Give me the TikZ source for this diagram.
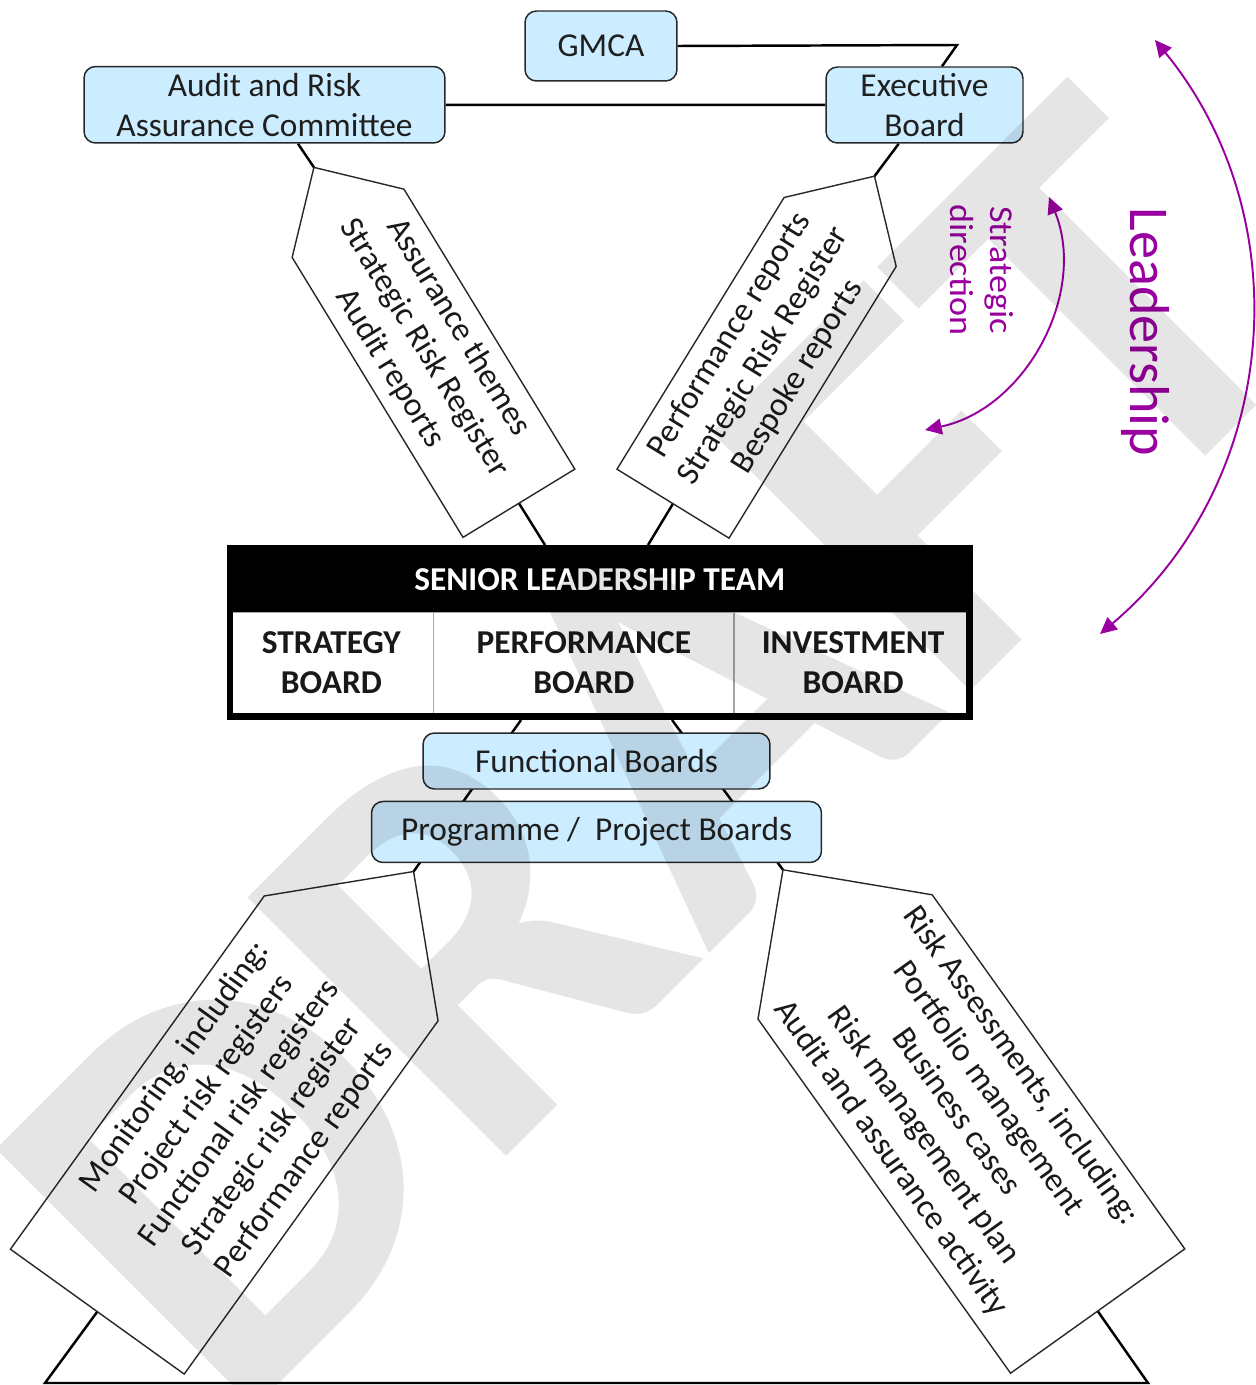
\documentclass[tikz,border=0pt]{standalone}
\usepackage{fontspec}
\setmainfont{Carlito}
\usetikzlibrary{arrows.meta, positioning, backgrounds, calc}
\definecolor{darkgray}{RGB}{40,40,40}
\definecolor{boxblue}{RGB}{204,236,255}
\definecolor{leadpurple}{RGB}{153,0,160}
\newcommand{\boxfont}{\fontsize{19}{22.7}\selectfont}
\tikzset{
  box/.style={rectangle, rounded corners=6.5pt, draw=darkgray, line width=0.85pt,
              fill=boxblue, text=black!88, align=center, inner sep=0pt,
              font=\boxfont},
  sltcell/.style={rectangle, draw=gray!70, line width=0.5pt, fill=white,
                  text=black!90, align=center, inner sep=0pt,
                  minimum height=2.03cm, font=\boxfont\bfseries},
  slthead/.style={rectangle, fill=black, text=white, inner sep=0pt,
                  minimum width=14.8cm, minimum height=1.28cm,
                  font=\boxfont\bfseries},
  sltframe/.style={rectangle, draw=black, line width=3.7pt, inner sep=0pt,
                   minimum width=14.8cm, minimum height=3.37cm},
  tagtext/.style={align=center, inner sep=0pt, text=black!90, font=\boxfont},
  tag/.style={draw=darkgray, line width=0.8pt},
  link/.style={draw=black, line width=1.4pt},
  leadarrow/.style={{Triangle[length=9.5pt, width=9pt]}-{Triangle[length=9.5pt, width=9pt]},
                    draw=leadpurple, line width=1.1pt},
  leadtext/.style={text=leadpurple, align=center, inner sep=0pt},
  watermark/.style={text=black, text opacity=0.1, inner sep=0pt,
                    font=\fontsize{321}{321}\selectfont\bfseries},
}

\begin{document}
\begin{tikzpicture}[x=0.02cm, y=0.02cm]
  \useasboundingbox (0,0) rectangle (1255,-1385);

  % Top boards
  \node[box, minimum width=3.04cm, minimum height=1.4cm] (gmca) at (601,-46) {GMCA};
  \node[box, minimum width=7.22cm, minimum height=1.53cm] (audit) at (264.5,-104.75)
    {Audit and Risk\\Assurance Committee};
  \node[box, minimum width=3.94cm, minimum height=1.52cm] (exec) at (924.5,-105)
    {Executive\\Board};

  % Senior leadership team
  \node[sltcell, minimum width=4.065cm] (strategy) at (331.4,-662.75) {STRATEGY\\BOARD};
  \node[sltcell, minimum width=6cm, right=0pt of strategy] (performance) {PERFORMANCE\\BOARD};
  \node[sltcell, minimum width=4.735cm, right=0pt of performance] (investment) {INVESTMENT\\BOARD};
  \node[slthead] (slthead) at (599.75,-580) {SENIOR LEADERSHIP TEAM};
  \node[sltframe] (slt) at (599.75,-632.5) {};

  % Lower boards
  \node[box, minimum width=6.94cm, minimum height=1.12cm] (functional) at (596.5,-761)
    {Functional Boards};
  \node[box, minimum width=9cm, minimum height=1.22cm, below=0.22cm of functional]
    (programme) {Programme /~ Project Boards};

  % Report tags
  \node[tagtext, rotate=-58.6] (assure) at (424.1,-347.9)
    {Assurance themes\\Strategic Risk Register\\Audit reports};
  \begin{scope}[shift={(assure.center)}, rotate=-58.6]
    \draw[tag] (-211.5,0) coordinate (assuretip) -- (-146,65.5) -- (182,65.5)
      -- (182,-65.5) -- (-146,-65.5) -- cycle;
    \coordinate (assureend) at (182,0);
  \end{scope}

  \node[tagtext, rotate=58.4] (perform) at (763.9,-355.9)
    {Performance reports\\Strategic Risk Register\\Bespoke reports};
  \begin{scope}[shift={(perform.center)}, rotate=58.4]
    \draw[tag] (211,0) coordinate (performtip) -- (145.5,65.8) -- (-173.5,65.8)
      -- (-173.5,-65.8) -- (145.5,-65.8) -- cycle;
    \coordinate (performend) at (-173.5,0);
  \end{scope}

  \node[tagtext, rotate=54.3] (monitor) at (239.7,-1113.5)
    {Monitoring, including:\\Project risk registers\\Functional risk registers\\Strategic risk register\\Performance reports};
  \begin{scope}[shift={(monitor.center)}, rotate=54.3]
    \draw[tag] (298,0) coordinate (monitortip) -- (191,107) -- (-244,107)
      -- (-244,-107) -- (191,-107) -- cycle;
    \coordinate (monitorend) at (-244,0);
  \end{scope}

  \node[tagtext, rotate=-54.5] (assess) at (955.7,-1112)
    {Risk Assessments, including:\\Portfolio management\\Business cases\\Risk management plan\\Audit and assurance activity};
  \begin{scope}[shift={(assess.center)}, rotate=-54.5]
    \draw[tag] (-297.5,0) coordinate (assesstip) -- (-190.5,107) -- (244.5,107)
      -- (244.5,-107) -- (-190.5,-107) -- cycle;
    \coordinate (assessend) at (244.5,0);
  \end{scope}

  \coordinate (gmcabend) at (957,-45);
  \coordinate (baseleft) at (45,-1383);
  \coordinate (baseright) at (1148,-1383);

  % Connectors
  \begin{scope}[on background layer]
    \draw[link] (gmca.east) -- (gmcabend) -- ([xshift=0.35cm]exec.north);
    \draw[link] (audit) -- (exec);
    \draw[link] ([xshift=0.67cm]audit.south) -- (assuretip);
    \draw[link] (assureend) -- ([xshift=-1.095cm]slt.north);
    \draw[link] ([xshift=-0.516cm]exec.south) -- (performtip);
    \draw[link] (performend) -- ([xshift=0.965cm]slt.north);
    \draw[link] (monitortip) -- ([xshift=-1.575cm]slt.south);
    \draw[link] (assesstip) -- ([xshift=1.445cm]slt.south);
    \draw[link] (monitorend) -- (baseleft) -- (baseright) -- (assessend);
  \end{scope}

  % Leadership arrows
  \coordinate (leadtop) at (1155,-40);
  \coordinate (leadbot) at (1100,-634);
  \coordinate (stratop) at (1049,-197);
  \coordinate (strabot) at (925,-430);
  \draw[leadarrow] (leadtop) to[bend left=44.5] (leadbot);
  \draw[leadarrow] (stratop) to[bend left=50] (strabot);
  \node[leadtext, rotate=-90, font=\fontsize{32}{38}\selectfont] (leadership)
    at (1145,-332) {Leadership};
  \node[leadtext, rotate=-90, xscale=1.08, font=\boxfont] (stratdir)
    at (982,-270) {Strategic\\direction};

  % Watermark
  \node[watermark, rotate=45] (draft) at (652,-752) {DRAFT};
\end{tikzpicture}
\end{document}
